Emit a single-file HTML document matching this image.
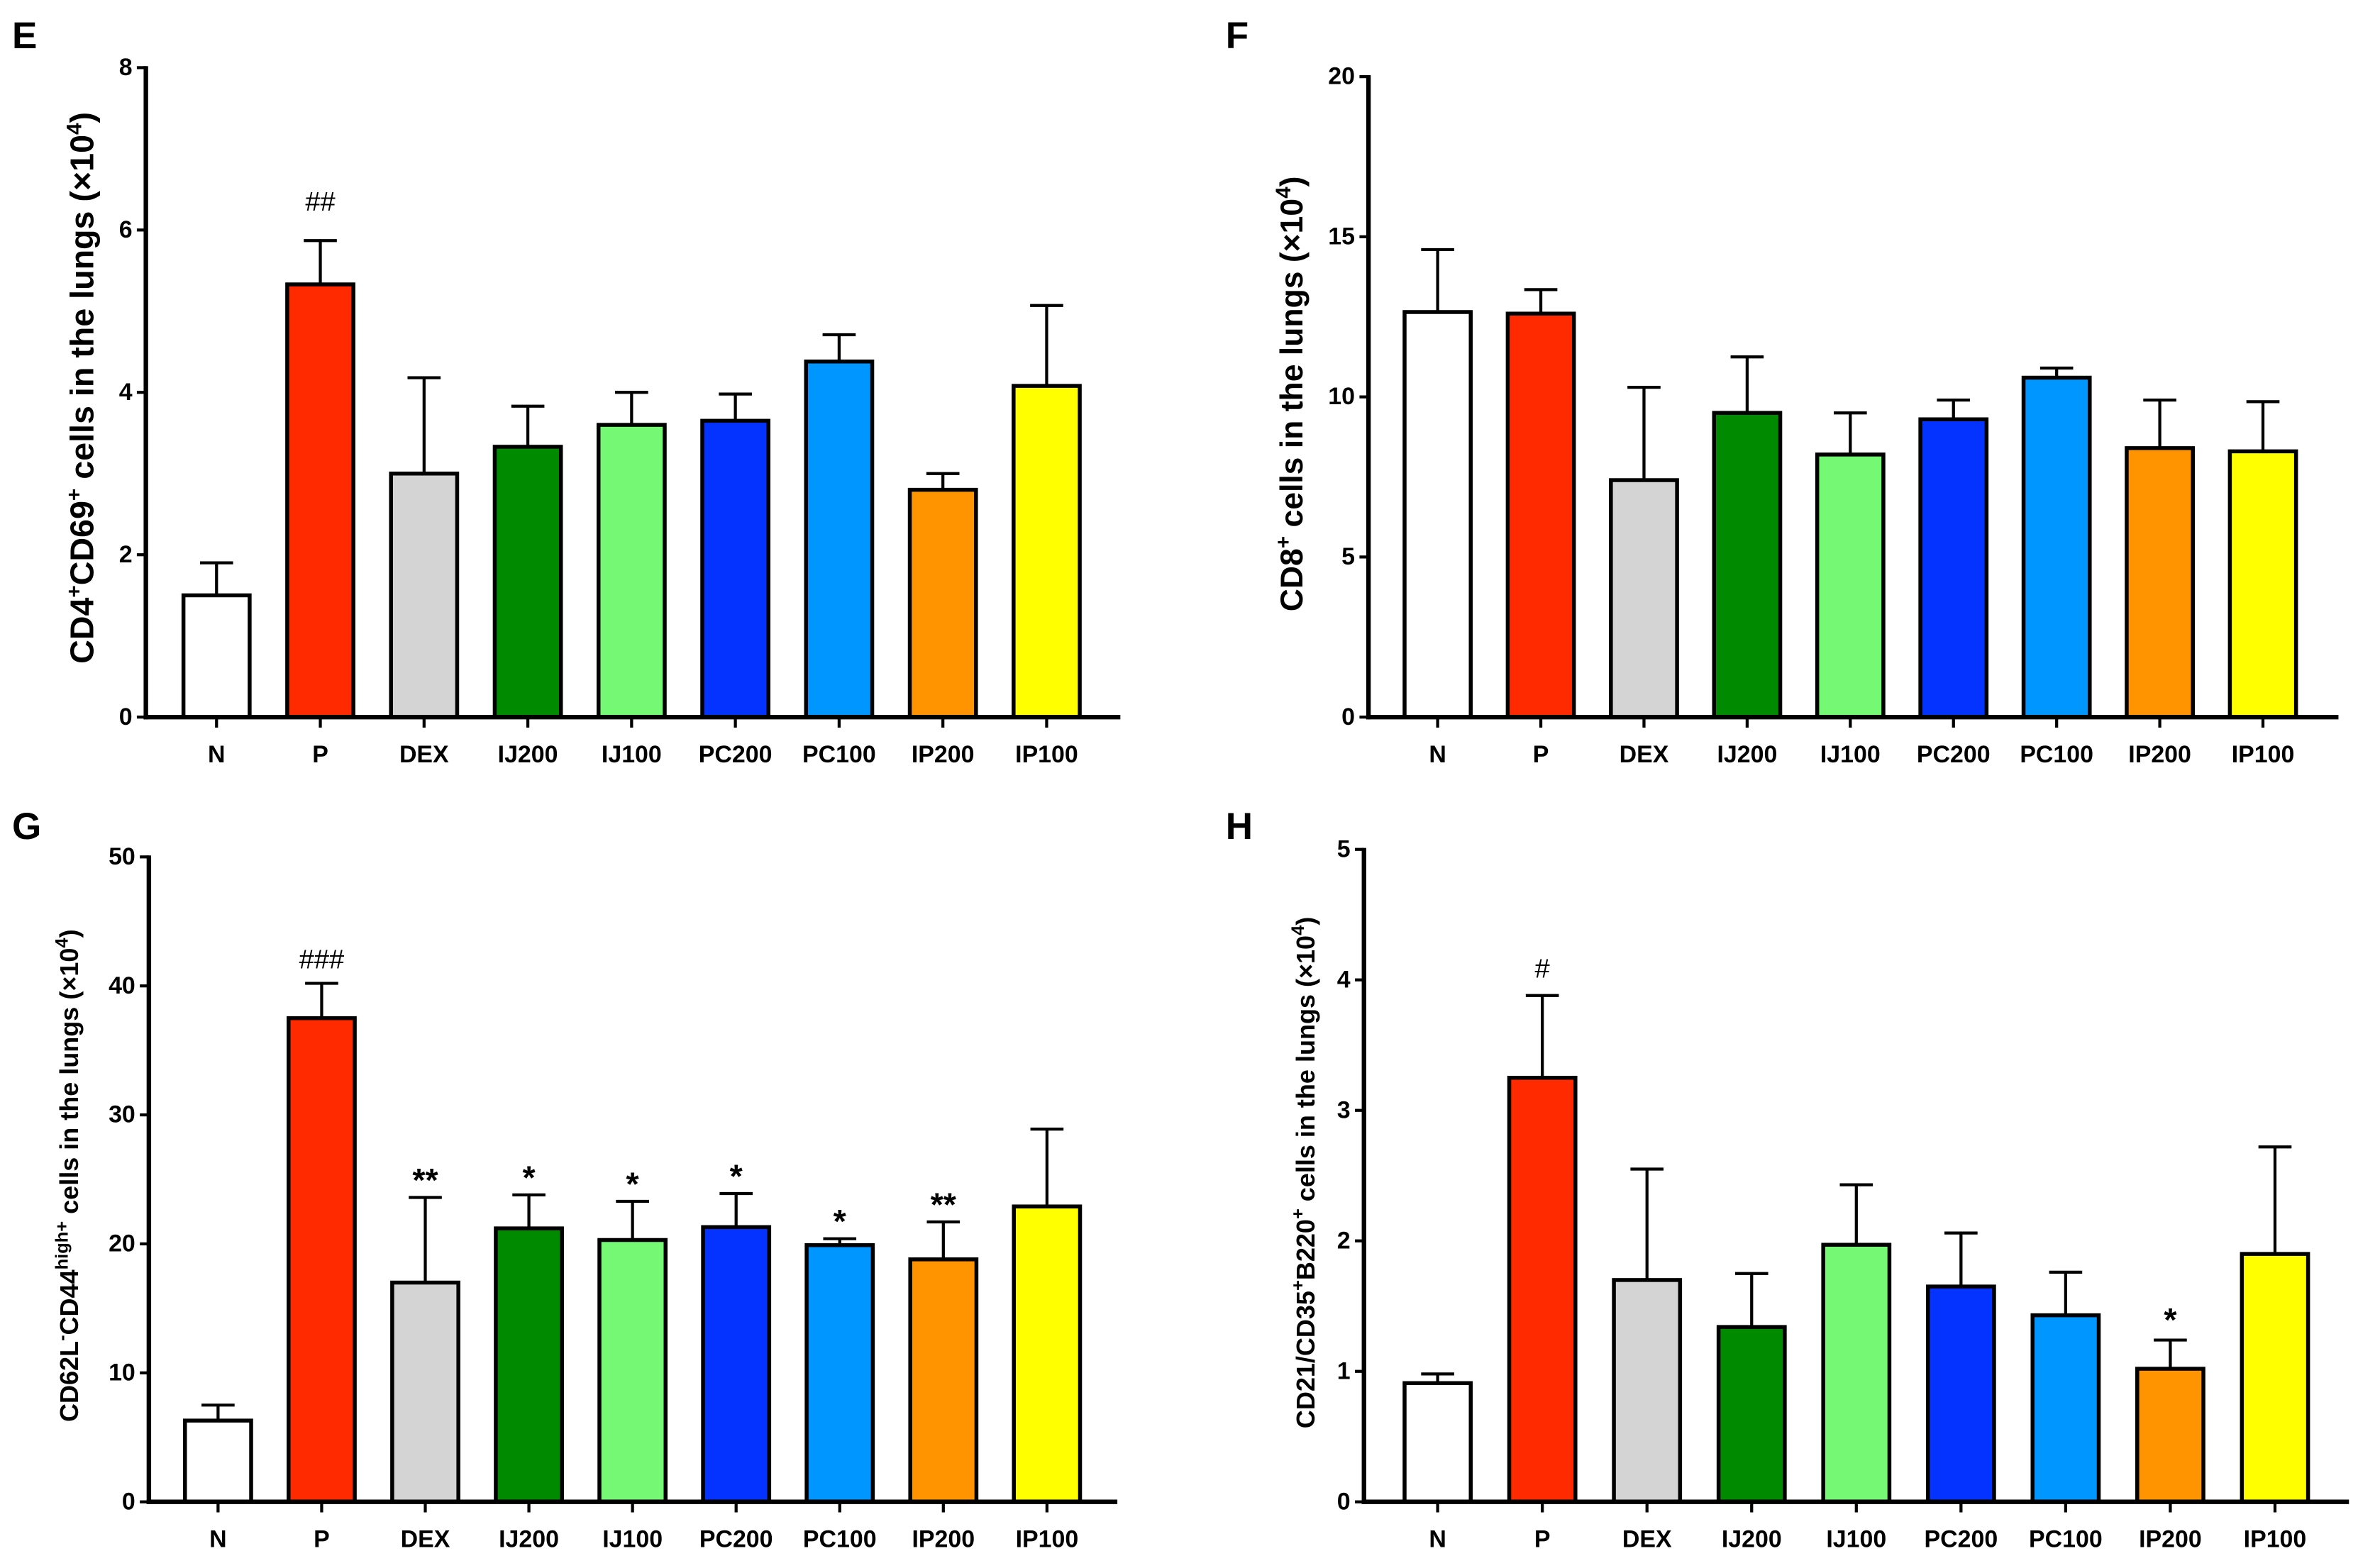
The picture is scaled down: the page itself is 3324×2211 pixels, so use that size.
<!DOCTYPE html>
<html><head><meta charset="utf-8">
<style>
html,body{margin:0;padding:0;background:#fff;}
svg{display:block;}
text{font-family:"Liberation Sans",sans-serif;font-weight:bold;fill:#000;}
.tick{font-family:"Liberation Sans Narrow","Liberation Sans",sans-serif;font-size:16px;}
</style></head>
<body>
<svg id="fig" width="3324" height="2211" viewBox="0 0 1568 1043" preserveAspectRatio="none" xmlns="http://www.w3.org/2000/svg"></svg>
<script>
const categories = ["N","P","DEX","IJ200","IJ100","PC200","PC100","IP200","IP100"];
const colors = ["#ffffff","#ff2a00","#d4d4d4","#008a00","#75f975","#0433ff","#0096ff","#ff9300","#ffff00"];
const eMeans = [1.5,5.33,3.0,3.33,3.6,3.65,4.38,2.8,4.08];
const eTops  = [1.9,5.87,4.18,3.83,4.0,3.98,4.71,3.0,5.07];
const eTicks = [0,2,4,6,8];
const eMarks = ["","##","","","","","","",""];
const fMeans = [12.65,12.6,7.4,9.5,8.2,9.3,10.6,8.4,8.3];
const fTops  = [14.6,13.35,10.3,11.25,9.5,9.9,10.9,9.9,9.85];
const fTicks = [0,5,10,15,20];
const fMarks = ["","","","","","","","",""];
const gMeans = [6.3,37.5,17.0,21.2,20.3,21.3,19.9,18.8,22.9];
const gTops  = [7.5,40.2,23.6,23.8,23.3,23.9,20.4,21.7,28.9];
const gTicks = [0,10,20,30,40,50];
const gMarks = ["","###","**","*","*","*","*","**",""];
const hMeans = [0.91,3.25,1.7,1.34,1.97,1.65,1.43,1.02,1.9];
const hTops  = [0.98,3.88,2.55,1.75,2.43,2.06,1.76,1.24,2.72];
const hTicks = [0,1,2,3,4,5];
const hMarks = ["","#","","","","","","*",""];

const NS="http://www.w3.org/2000/svg";
const svg=document.getElementById('fig');
function mk(tag,attrs,parent){const e=document.createElementNS(NS,tag);for(const k in attrs)e.setAttribute(k,attrs[k]);(parent||svg).appendChild(e);return e;}

function panel(p){
  const g=mk('g',{});
  
  
  const ymax=p.ticks[p.ticks.length-1];
  const y=v=>p.y0-(v/ymax)*(p.y0-p.y1);
  const x=i=>p.c0+i*p.step;
  const L=mk('text',{x:p.lx,y:p.ly,'font-size':25},g);L.textContent=p.letter;
  
  
  categories.forEach((c,i)=>{
    const bw=44;
    const top=y(p.tops[i]), m=y(p.means[i]);
    const el=mk('line',{x1:x(i),x2:x(i),y1:m,y2:top,stroke:'#000','stroke-width':2},g);
    
    
    const cap=mk('line',{x1:x(i)-11,x2:x(i)+11,y1:top,y2:top,stroke:'#000','stroke-width':2},g);
    
    
    const r=mk('rect',{x:x(i)-bw/2,y:m,width:bw,height:p.y0-m,fill:colors[i],stroke:'#000','stroke-width':2.6},g);
    
    
    const t=mk('line',{x1:x(i),x2:x(i),y1:p.y0,y2:p.y0+7,stroke:'#000','stroke-width':2},g);
    
    
    const lb=mk('text',{x:x(i),y:p.y0+30,'text-anchor':'middle',class:'tick'},g);lb.textContent=c;
    
    
    if(p.marks[i]){
      const star=p.marks[i].indexOf('*')>=0;
      const s=mk('text',{x:x(i),y:top-p.markGap+(star?6:0),'text-anchor':'middle','font-size':star?22:18,style:star?'':'font-weight:normal'},g);s.textContent=p.marks[i];
      
      
    }
  });
  const ya=mk('line',{x1:p.ax,x2:p.ax,y1:p.y1-1,y2:p.y0+1.5,stroke:'#000','stroke-width':3},g);
  
  
  const xa=mk('line',{x1:p.ax-1.5,x2:p.xend,y1:p.y0,y2:p.y0,stroke:'#000','stroke-width':3},g);
  
  
  p.ticks.forEach(v=>{
    const t=mk('line',{x1:p.ax-6,x2:p.ax,y1:y(v),y2:y(v),stroke:'#000','stroke-width':2},g);
    
    
    const tl=mk('text',{x:p.ax-9,y:y(v)+5,'text-anchor':'end',class:'tick'},g);tl.textContent=v;
    
    
  });
  const tt=mk('text',{transform:`translate(${p.tx},${p.ty}) rotate(-90)`,'text-anchor':'middle','font-size':p.tfs},g);
  tt.innerHTML=p.title;
  
  
}

panel({letter:'E',lx:8,ly:32,ax:97,y0:477,y1:45,c0:144,step:69,xend:745,ticks:eTicks,means:eMeans,tops:eTops,marks:eMarks,markGap:20,
  tx:62,ty:258,tfs:22,title:'CD4<tspan dy="-8" font-size="14">+</tspan><tspan dy="8">CD69</tspan><tspan dy="-8" font-size="14">+</tspan><tspan dy="8"> cells in the lungs (×10</tspan><tspan dy="-8" font-size="14">4</tspan><tspan dy="8">)</tspan>'});
panel({letter:'F',lx:815,ly:32,ax:910,y0:477,y1:51,c0:956,step:68.6,xend:1555,ticks:fTicks,means:fMeans,tops:fTops,marks:fMarks,markGap:20,
  tx:866,ty:262,tfs:21,title:'CD8<tspan dy="-8" font-size="14">+</tspan><tspan dy="8"> cells in the lungs (×10</tspan><tspan dy="-8" font-size="14">4</tspan><tspan dy="8">)</tspan>'});
panel({letter:'G',lx:8,ly:558,ax:99,y0:999,y1:570,c0:145,step:68.9,xend:743,ticks:gTicks,means:gMeans,tops:gTops,marks:gMarks,markGap:10,
  tx:52,ty:782,tfs:17,title:'CD62L<tspan dy="-7" font-size="12">-</tspan><tspan dy="7">CD44</tspan><tspan dy="-7" font-size="12">high+</tspan><tspan dy="7"> cells in the lungs (×10</tspan><tspan dy="-7" font-size="12">4</tspan><tspan dy="7">)</tspan>'});
panel({letter:'H',lx:815,ly:558,ax:907,y0:999,y1:565,c0:956,step:69.6,xend:1562,ticks:hTicks,means:hMeans,tops:hTops,marks:hMarks,markGap:12,
  tx:874,ty:780,tfs:17,title:'CD21/CD35<tspan dy="-7" font-size="12">+</tspan><tspan dy="7">B220</tspan><tspan dy="-7" font-size="12">+</tspan><tspan dy="7"> cells in the lungs (×10</tspan><tspan dy="-7" font-size="12">4</tspan><tspan dy="7">)</tspan>'});
</script>
</body></html>
